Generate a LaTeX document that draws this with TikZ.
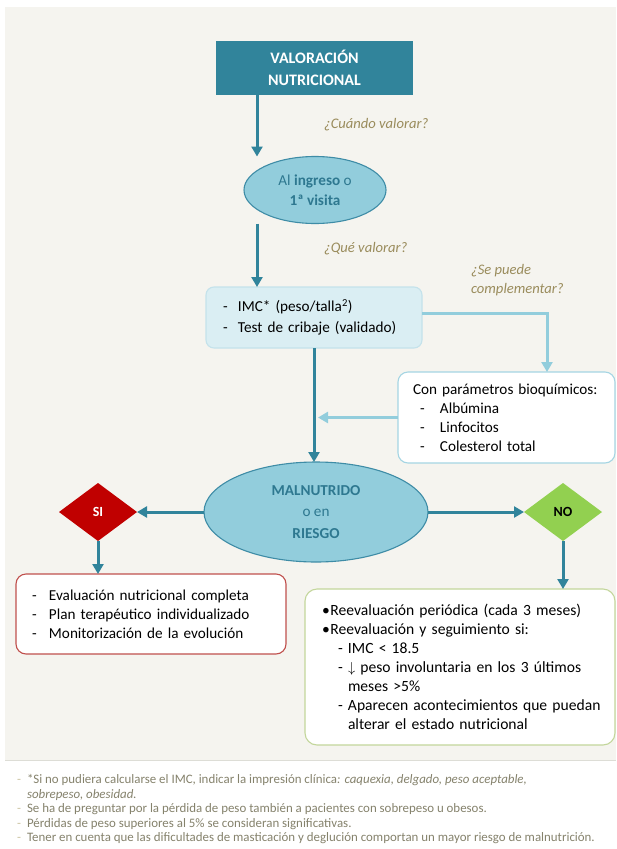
\documentclass[tikz,border=0pt]{standalone}
\usepackage{fontspec}
\setmainfont{Carlito}
\usepackage{tikz}
\usetikzlibrary{positioning,arrows.meta,shapes.geometric}
\definecolor{tealdark}{HTML}{31849B}
\definecolor{tealtext}{HTML}{2E7890}
\definecolor{ovalfill}{HTML}{92CDDC}
\definecolor{ovalline}{HTML}{3E8CA6}
\definecolor{imcfill}{HTML}{DAEEF3}
\definecolor{imcline}{HTML}{C4E2EB}
\definecolor{lightline}{HTML}{92CDDC}
\definecolor{bioqline}{HTML}{A5D5E3}
\definecolor{sired}{HTML}{C00000}
\definecolor{siline}{HTML}{C0504D}
\definecolor{nogreen}{HTML}{92D050}
\definecolor{noline}{HTML}{C3D69B}
\definecolor{askcol}{HTML}{9A8C5C}
\definecolor{paper}{HTML}{F5F4EF}
\definecolor{sepline}{HTML}{DDDDD6}
\definecolor{footcol}{HTML}{85826C}
\definecolor{footdash}{HTML}{CBC3A0}
\newcommand{\guion}[1]{\makebox[#1][l]{-}}
\newcommand{\vineta}{\makebox[8.5pt][l]{\textbullet}}

\begin{document}
\begin{tikzpicture}[x=1pt,y=-1pt,>=Latex,
  every node/.style={inner sep=0pt,outer sep=0pt},
  titlebox/.style={rectangle,fill=tealdark,text=white,font=\fontsize{16}{22}\selectfont\bfseries,
    minimum width=197pt,minimum height=54pt,align=center},
  oval/.style={ellipse,fill=ovalfill,draw=ovalline,line width=1.1pt,text=tealtext,align=center},
  ask/.style={text=askcol,font=\fontsize{14.6}{19}\selectfont\itshape,anchor=west,align=left},
  listbox/.style={rectangle,rounded corners=10pt,line width=1.1pt,align=left,
    font=\fontsize{15.2}{19}\selectfont,inner xsep=6pt},
  choice/.style={diamond,minimum width=78pt,minimum height=58pt,font=\fontsize{14}{14}\selectfont\bfseries},
  darrow/.style={line width=3pt,draw=tealdark,-{Triangle[length=10pt,width=11pt]}},
  larrow/.style={line width=3pt,draw=lightline,-{Triangle[length=10pt,width=11pt]}}]
  \useasboundingbox (0,0) rectangle (616,849);
  \fill[white] (0,0) rectangle (616,849);
  \fill[paper] (5,7) rectangle (616,760);
  \draw[sepline,line width=1pt] (5,760.5) -- (616,760.5);

  \node[titlebox] (valor) at (314.5,68) {VALORACIÓN\\NUTRICIONAL};
  \node[oval,minimum width=142pt,minimum height=67pt,font=\fontsize{15.2}{20}\selectfont] (ingreso) at (315,190)
    {Al \textbf{ingreso} o\\\textbf{1ª visita}};
  \node[ask] (cuando) at (324,125) {¿Cuándo valorar?};
  \node[ask] (que) at (324,249) {¿Qué valorar?};
  \node[ask] (comple) at (471,280.5) {¿Se puede\\complementar?};

  \node[listbox,fill=imcfill,draw=imcline,rounded corners=8pt,text width=204pt,minimum height=61pt,
    font=\fontsize{15.2}{21}\selectfont] (imc) at (314,317.5)
    {\hspace*{11pt}\guion{15pt}IMC* (peso/talla\textsuperscript{2})\\
     \hspace*{11pt}\guion{15pt}Test de cribaje (validado)};
  \node[listbox,fill=white,draw=bioqline,text width=205pt,minimum height=91pt] (bioq) at (506.5,417.5)
    {\hspace*{9pt}Con parámetros bioquímicos:\\
     \hspace*{16pt}\guion{20pt}Albúmina\\
     \hspace*{16pt}\guion{20pt}Linfocitos\\
     \hspace*{16pt}\guion{20pt}Colesterol total};

  \node[oval,minimum width=224pt,minimum height=100pt,font=\fontsize{15.2}{21.5}\selectfont] (maln) at (316,512)
    {\textbf{MALNUTRIDO}\\o en\\\textbf{RIESGO}};
  \node[choice,fill=sired,text=white] (si) at (98,512) {SI};
  \node[choice,fill=nogreen,text=black] (no) at (563,512) {NO};

  \node[listbox,fill=white,draw=siline,text width=258pt,minimum height=80pt] (sibox) at (151,614)
    {\hspace*{10pt}\guion{17pt}Evaluación nutricional completa\\
     \hspace*{10pt}\guion{17pt}Plan terapéutico individualizado\\
     \hspace*{10pt}\guion{17pt}Monitorización de la evolución};
  \node[listbox,fill=white,draw=noline,rounded corners=12pt,text width=298pt,minimum height=156pt,
    font=\fontsize{15.6}{19}\selectfont] (nobox) at (460,667)
    {\hspace*{11pt}\vineta Reevaluación periódica (cada 3 meses)\\
     \hspace*{11pt}\vineta Reevaluación y seguimiento si:\\
     \hspace*{27pt}\guion{10pt}IMC < 18.5\\
     \hspace*{27pt}\guion{10pt}$\downarrow$ peso involuntaria en los 3 últimos\\
     \hspace*{37pt}meses >5\%\\
     \hspace*{27pt}\guion{10pt}Aparecen acontecimientos que puedan\\
     \hspace*{37pt}alterar el estado nutricional};

  \node[anchor=north west,align=left,text=footcol,font=\fontsize{12.9}{14.5}\selectfont] (notas) at (17,774.5)
    {\textcolor{footdash}{\guion{10pt}}*Si no pudiera calcularse el IMC, indicar la impresión clínica\textit{: caquexia, delgado, peso aceptable,}\\
     \hspace*{10pt}\textit{sobrepeso, obesidad.}\\
     \textcolor{footdash}{\guion{10pt}}Se ha de preguntar por la pérdida de peso también a pacientes con sobrepeso u obesos.\\
     \textcolor{footdash}{\guion{10pt}}Pérdidas de peso superiores al 5\% se consideran significativas.\\
     \textcolor{footdash}{\guion{10pt}}Tener en cuenta que las dificultades de masticación y deglución comportan un mayor riesgo de malnutrición.};

  \coordinate (eje) at (257,0);
  \draw[darrow] (valor.south -| eje) -- (ingreso.north -| eje);
  \draw[darrow] (ingreso.south -| eje) -- (imc.north -| eje);
  \draw[larrow] ([yshift=4.5pt]imc.east) -| ([xshift=40.5pt]bioq.north);
  \draw[larrow] (bioq.west) -- ([xshift=4pt]bioq.west -| imc.south);
  \draw[darrow] (imc.south) -- (imc.south |- maln.north);
  \draw[darrow] (maln.west) -- (si.east);
  \draw[darrow] (maln.east) -- (no.west);
  \draw[darrow] (si.south) -- (si.south |- sibox.north);
  \draw[darrow] (no.south) -- (no.south |- nobox.north);
\end{tikzpicture}
\end{document}
